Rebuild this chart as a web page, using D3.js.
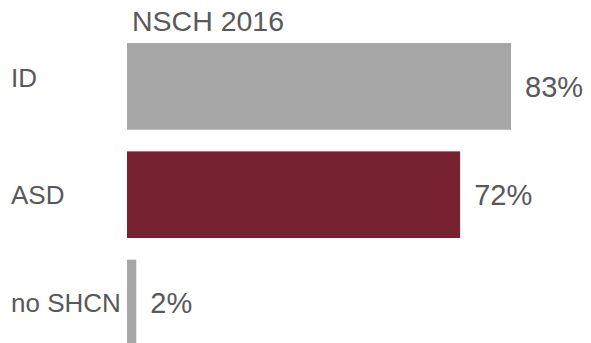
<!DOCTYPE html>
<html>
<head>
<meta charset="utf-8">
<script src="https://cdn.jsdelivr.net/npm/d3@7/dist/d3.min.js"></script>
<style>
  html, body { margin: 0; padding: 0; background: #ffffff; }
  svg { display: block; font-family: "Liberation Sans", Arial, sans-serif; }
</style>
</head>
<body>
<svg id="chart" width="591" height="343"></svg>
<script>
// Share of children, NSCH 2016
const title = "NSCH 2016";
const categories = ["ID", "ASD", "no SHCN"];
const values = [83, 72, 2];
const colors = ["#a6a6a6", "#762230", "#a6a6a6"];

const svg = d3.select("#chart");
const textColor = "#595959";

const x = d3.scaleLinear().domain([0, 100]).range([127, 127 + 462.7]);
const y = d3.scaleBand()
  .domain(categories)
  .range([32.2, 357.2])
  .paddingInner(0.2)
  .paddingOuter(0.1);

const rows = categories.map((c, i) => ({ cat: c, value: values[i], color: colors[i] }));

// Bars
svg.append("g").selectAll("rect")
  .data(rows)
  .join("rect")
  .attr("x", x(0))
  .attr("y", d => y(d.cat))
  .attr("width", d => x(d.value) - x(0))
  .attr("height", y.bandwidth())
  .attr("fill", d => d.color);

// Category labels on the left
svg.append("g").selectAll("text")
  .data(rows)
  .join("text")
  .attr("x", 11)
  .attr("y", d => y(d.cat) + y.bandwidth() / 2 + (d.cat === "ID" ? -8 : 0))
  .attr("dy", "0.35em")
  .attr("font-size", 26)
  .attr("fill", textColor)
  .text(d => d.cat);

// Value labels at the end of each bar
svg.append("g").selectAll("text")
  .data(rows)
  .join("text")
  .attr("x", d => x(d.value) + 14)
  .attr("y", d => y(d.cat) + y.bandwidth() / 2)
  .attr("dy", "0.35em")
  .attr("font-size", 29)
  .attr("fill", textColor)
  .text(d => d.value + "%");

// Title
svg.append("text")
  .attr("x", 132)
  .attr("y", 31)
  .attr("font-size", 28.5)
  .attr("fill", textColor)
  .text(title);
</script>
</body>
</html>
